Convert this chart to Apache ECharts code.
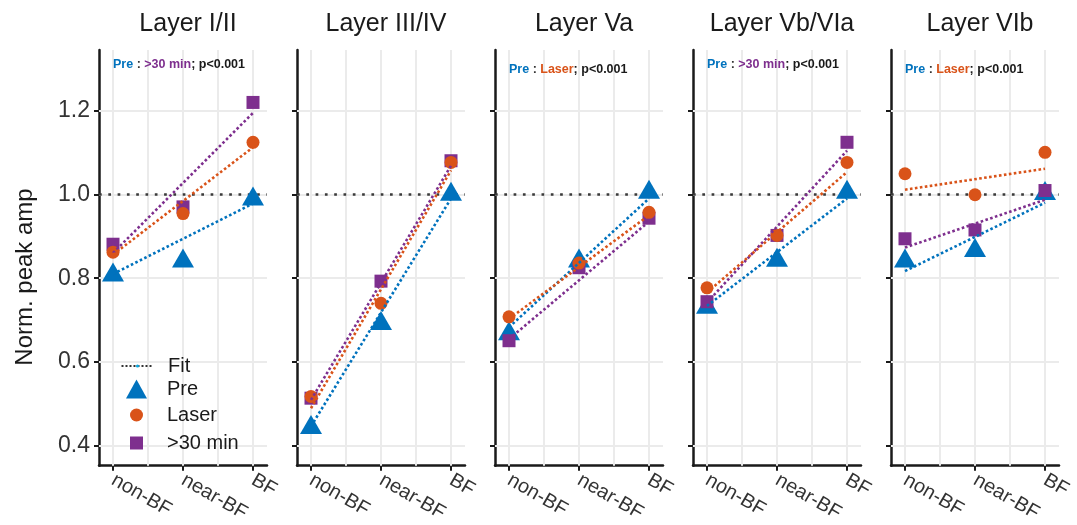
<!DOCTYPE html>
<html>
<head>
<meta charset="utf-8">
<script src="https://cdn.jsdelivr.net/npm/echarts@6/dist/echarts.min.js"></script>
<style>html,body{margin:0;padding:0;background:#fff;}#c{width:1077px;height:525px;}</style>
</head>
<body>
<div id="c"></div>
<script>
const categories = ['non-BF', 'near-BF', 'BF'];
const panelTitles = ['Layer I/II', 'Layer III/IV', 'Layer Va', 'Layer Vb/VIa', 'Layer VIb'];
const yTicks = [0.4, 0.6, 0.8, 1.0, 1.2];
const xGrid = [0, 0.5, 1, 1.5, 2];
const groupNames = ['Pre', 'Laser', '>30 min'];

const preValues   = [[0.815, 0.848, 0.996], [0.451, 0.699, 1.007], [0.675, 0.848, 1.012], [0.738, 0.850, 1.012], [0.848, 0.873, 1.009]];
const laserValues = [[0.862, 0.954, 1.124], [0.518, 0.740, 1.076], [0.708, 0.836, 0.957], [0.777, 0.902, 1.076], [1.049, 0.999, 1.100]];
const min30Values = [[0.881, 0.970, 1.219], [0.514, 0.793, 1.080], [0.651, 0.825, 0.943], [0.744, 0.902, 1.124], [0.894, 0.915, 1.009]];

// fitted line values at non-BF and BF
const preFit   = [[0.810, 0.978], [0.447, 0.990], [0.683, 0.990], [0.734, 0.990], [0.817, 0.980]];
const laserFit = [[0.856, 1.112], [0.490, 1.057], [0.703, 0.950], [0.766, 1.053], [1.011, 1.061]];
const min30Fit = [[0.860, 1.194], [0.510, 1.068], [0.655, 0.935], [0.742, 1.104], [0.873, 0.987]];

const annotations = [['Pre', '>30 min'], null, ['Pre', 'Laser'], ['Pre', '>30 min'], ['Pre', 'Laser']];
const pText = 'p<0.001';
const refValue = 1.0;

const colors = { 'Pre': '#0072BD', 'Laser': '#D95319', '>30 min': '#7E2F8E' };
const FONT = '"Liberation Sans", Arial, Helvetica, sans-serif';

const panelLeft = [99, 297, 495, 693, 891];
const panelW = 168, panelTop = 50, panelH = 420;
const annotTop = [58, 0, 63, 58, 63];

const grids = [], xAxes = [], yAxes = [], series = [], titles = [];

panelLeft.forEach((left, p) => {
  grids.push({ left: left, top: panelTop, width: panelW, height: panelH });
  xAxes.push({
    type: 'value', gridIndex: p, min: -0.2, max: 2.2,
    axisLine: { show: true, onZero: false, lineStyle: { color: '#1a1a1a', width: 2.5 } },
    axisTick: { show: true, customValues: [0, 1, 2], length: 5, lineStyle: { color: '#1a1a1a', width: 2 } },
    axisLabel: {
      customValues: [0, 1, 2], rotate: -30, margin: 13, fontSize: 20, color: '#333', fontFamily: FONT,
      formatter: v => categories[Math.round(v)]
    },
    splitLine: { show: false }
  });
  yAxes.push({
    type: 'value', gridIndex: p, min: 0.353, max: 1.344,
    axisLine: { show: true, onZero: false, lineStyle: { color: '#1a1a1a', width: 2.5 } },
    axisTick: { show: true, customValues: yTicks, length: 5, lineStyle: { color: '#1a1a1a', width: 2 } },
    axisLabel: {
      show: p === 0, customValues: yTicks, margin: 9, fontSize: 23, color: '#333', fontFamily: FONT,
      formatter: v => v.toFixed(1)
    },
    splitLine: { show: false }
  });

  // background grid lines
  series.push({
    type: 'line', xAxisIndex: p, yAxisIndex: p, data: [], silent: true,
    markLine: {
      z: 1, silent: true, symbol: 'none', label: { show: false }, animation: false,
      lineStyle: { color: '#ebebeb', width: 2, type: 'solid' },
      data: yTicks.map(v => ({ yAxis: v })).concat(xGrid.map(v => ({ xAxis: v })))
    }
  });
  // reference line at 1.0
  series.push({
    type: 'line', xAxisIndex: p, yAxisIndex: p, data: [], silent: true,
    markLine: {
      z: 1.5, silent: true, symbol: 'none', label: { show: false }, animation: false,
      lineStyle: { color: '#3a3a3a', width: 2.7, type: [2.7, 6.6], cap: 'butt' },
      data: [{ yAxis: refValue }]
    }
  });

  const groups = [
    ['Pre', preValues[p], 'triangle', [22, 19], preFit[p]],
    ['>30 min', min30Values[p], 'rect', 13, min30Fit[p]],
    ['Laser', laserValues[p], 'circle', 13, laserFit[p]]
  ];
  groups.forEach(g => {
    series.push({
      name: g[0], type: 'scatter', xAxisIndex: p, yAxisIndex: p, z: 2,
      symbol: g[2], symbolSize: g[3], itemStyle: { color: colors[g[0]], opacity: 1 },
      data: g[1].map((v, i) => [i, v]), animation: false
    });
  });
  groups.forEach(g => {
    series.push({
      name: 'fit ' + g[0], type: 'line', xAxisIndex: p, yAxisIndex: p, z: 3,
      symbol: 'none', silent: true, animation: false,
      lineStyle: { color: colors[g[0]], width: 2.6, type: [2.6, 2.4], cap: 'butt' },
      data: [[0, g[4][0]], [2, g[4][1]]]
    });
  });

  titles.push({
    text: panelTitles[p], left: left + panelW / 2, top: 7, textAlign: 'center',
    textStyle: { fontSize: 25, fontWeight: 'normal', color: '#1a1a1a', fontFamily: FONT }
  });
  if (annotations[p]) {
    const a = annotations[p];
    const base = { fontSize: 12.5, fontWeight: 'bold', fontFamily: FONT };
    titles.push({
      text: '{a|' + a[0] + '}{s| : }{b|' + a[1] + '}{k|; ' + pText + '}',
      left: left + 14, top: annotTop[p], padding: 0,
      textStyle: {
        rich: {
          a: Object.assign({ color: colors[a[0]] }, base),
          s: Object.assign({ color: '#333' }, base),
          b: Object.assign({ color: colors[a[1]] }, base),
          k: Object.assign({ color: '#1a1a1a' }, base)
        }
      }
    });
  }
});

// legend "Fit" entry series
series.push({
  name: 'Fit', type: 'line', xAxisIndex: 0, yAxisIndex: 0, data: [], symbol: 'none',
  lineStyle: { color: '#333', width: 2, type: [2, 2] }
});

// [name, icon, centerY, iconWidth, iconHeight]
const legendDefs = [
  ['Fit', null, 366, 32, 4],
  ['Pre', 'triangle', 389, 21, 19],
  ['Laser', 'circle', 415, 13, 13],
  ['>30 min', 'rect', 443, 13, 13]
];
const legendIconCenterX = 136.5, legendTextX = 167;
const legends = legendDefs.map(d => {
  const left = legendIconCenterX - d[3] / 2;
  const pad = legendTextX - (left + d[3] + 5);
  const item = d[1] ? { name: d[0], icon: d[1] } : { name: d[0] };
  return {
    data: [item], left: left, top: d[2] - 10, padding: 0, orient: 'vertical',
    itemWidth: d[3], itemHeight: d[4], selectedMode: false,
    lineStyle: { color: '#333', width: 2, type: [2, 2] },
    formatter: '{t|{name}}',
    textStyle: {
      fontSize: 20, color: '#1a1a1a', fontFamily: FONT, lineHeight: 20,
      rich: { t: { fontSize: 20, color: '#1a1a1a', fontFamily: FONT, lineHeight: 20, padding: [0, 0, 0, pad] } }
    }
  };
});

const chart = echarts.init(document.getElementById('c'), null, { renderer: 'canvas' });
chart.setOption({
  backgroundColor: '#ffffff',
  animation: false,
  title: titles,
  grid: grids,
  xAxis: xAxes,
  yAxis: yAxes,
  legend: legends,
  graphic: [{
    type: 'text', x: 25, y: 277, rotation: Math.PI / 2,
    style: {
      text: 'Norm. peak amp', fontSize: 24, fill: '#1a1a1a', fontFamily: FONT,
      textAlign: 'center', textVerticalAlign: 'middle'
    }
  }],
  series: series
});
</script>
</body>
</html>
